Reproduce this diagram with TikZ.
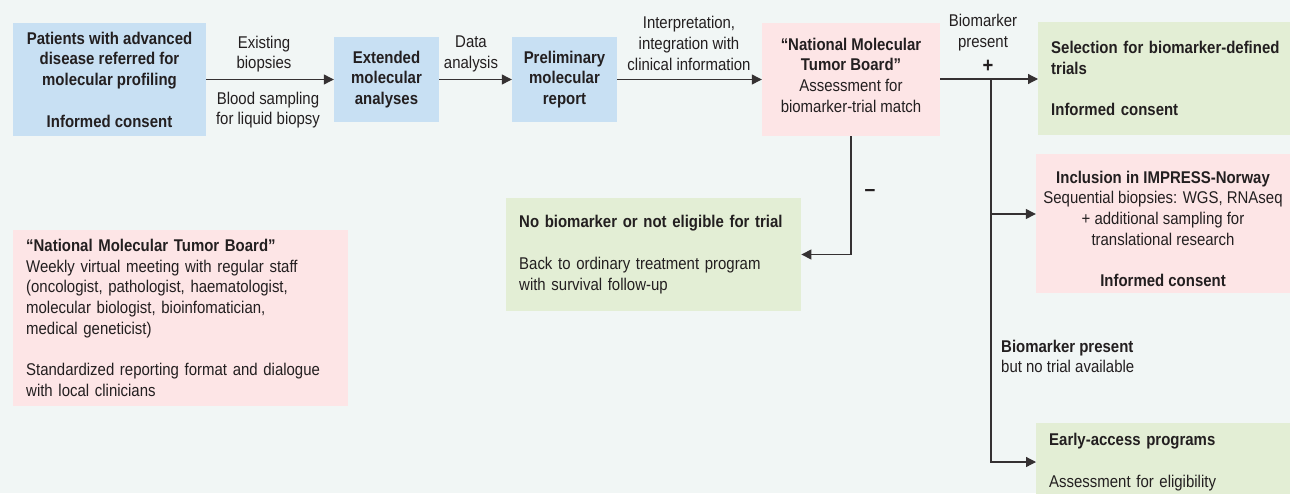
\documentclass[tikz,border=0pt]{standalone}
\usepackage{fontspec}
\setmainfont{Liberation Sans}[FakeStretch=0.88]
\usepackage{tikz}
\usetikzlibrary{positioning,calc,arrows.meta}
\definecolor{bgcol}{RGB}{241,246,245}
\definecolor{bluebox}{RGB}{200,224,243}
\definecolor{pinkbox}{RGB}{253,229,230}
\definecolor{greenbox}{RGB}{227,238,213}
\definecolor{inkcol}{RGB}{35,31,32}
\tikzstyle{arrow} = [-{Triangle[length=10pt,width=10pt]}, line width=1.2pt, draw=inkcol!92]
\tikzstyle{box} = [inner sep=0pt, align=center, text=inkcol]
\tikzstyle{leftbox} = [inner xsep=13pt, inner ysep=0pt, align=left, text=inkcol]
\tikzstyle{lbl} = [inner sep=0pt, align=center, text=inkcol]

\begin{document}
\begin{tikzpicture}[x=1pt, y=-1pt, font=\fontsize{17}{20.75}\selectfont]
    \fill[bgcol] (0,0) rectangle (1290,493);
    \useasboundingbox (0,0) rectangle (1290,493);

    \node[box, fill=bluebox, minimum width=193pt, minimum height=113pt] (patients) at (109.5,79.5)
        {\textbf{Patients with advanced}\\\textbf{disease referred for}\\\textbf{molecular profiling}\\[20.75pt]\textbf{Informed consent}};
    \node[box, fill=bluebox, minimum width=105pt, minimum height=85pt] (extended) at (386.5,79.5)
        {\textbf{Extended}\\\textbf{molecular}\\\textbf{analyses}};
    \node[box, fill=bluebox, minimum width=105pt, minimum height=85pt] (prelim) at (564.5,79.5)
        {\textbf{Preliminary}\\\textbf{molecular}\\\textbf{report}};
    \node[box, fill=pinkbox, minimum width=178pt, minimum height=113pt] (nmtb) at (851,79.5)
        {\textbf{``National Molecular}\\\textbf{Tumor Board''}\\Assessment for\\biomarker-trial match\rule[-9pt]{0pt}{0pt}};
    \node[leftbox, fill=greenbox, text width=240pt, minimum height=113pt, anchor=west] (select) at (1038,78.5)
        {\textbf{Selection for biomarker-defined}\\\textbf{trials}\\[20.75pt]\textbf{Informed consent}};
    \node[box, fill=pinkbox, minimum width=254pt, minimum height=139pt] (impress) at (1163,223.5)
        {\rule{0pt}{23pt}\textbf{Inclusion in IMPRESS-Norway}\\Sequential biopsies: WGS, RNAseq\\+ additional sampling for\\translational research\\[20.75pt]\textbf{Informed consent}};
    \node[leftbox, fill=greenbox, text width=269pt, minimum height=113pt, anchor=west] (nobio) at (506,254.5)
        {\textbf{No biomarker or not eligible for trial}\\[20.75pt]Back to ordinary treatment program\\with survival follow-up};
    \node[leftbox, fill=greenbox, text width=240pt, minimum height=78pt, anchor=west] (early) at (1036,462)
        {\textbf{Early-access programs}\\[20.75pt]Assessment for eligibility};
    \node[leftbox, fill=pinkbox, text width=309pt, minimum height=176pt, anchor=west] (legend) at (13,318)
        {\textbf{``National Molecular Tumor Board''}\\Weekly virtual meeting with regular staff\\(oncologist, pathologist, haematologist,\\molecular biologist, bioinfomatician,\\medical geneticist)\\[20.75pt]Standardized reporting format and dialogue\\with local clinicians};

    \node[lbl] (existing) at (264,54) {Existing\\biopsies};
    \node[lbl] (blood) at (268,110) {Blood sampling\\for liquid biopsy};
    \node[lbl] (data) at (471,54) {Data\\analysis};
    \node[lbl] (interp) at (689,43.5) {Interpretation,\\integration with\\clinical information};
    \node[lbl] (present) at (983,32.5) {Biomarker\\present};
    \node[lbl, font=\fontsize{21}{21}\selectfont\bfseries] (plus) at (988,66) {+};
    \node[lbl, font=\fontsize{22}{22}\selectfont\bfseries] (minus) at (870,193) {--};
    \node[lbl, align=left, anchor=west] (notrial) at (1001,356.5) {\textbf{Biomarker present}\\but no trial available};

    \coordinate (junction) at (991,79);
    \draw[arrow] (patients) -- (extended);
    \draw[arrow] (extended) -- (prelim);
    \draw[arrow] (prelim) -- (nmtb);
    \draw[arrow] (nmtb.east |- junction) -- (select.west |- junction);
    \draw[arrow] (junction) |- ([yshift=9.5pt]impress.west);
    \draw[arrow] (junction) |- (early.west);
    \draw[arrow] (nmtb.south) |- (nobio.east);
\end{tikzpicture}
\end{document}
